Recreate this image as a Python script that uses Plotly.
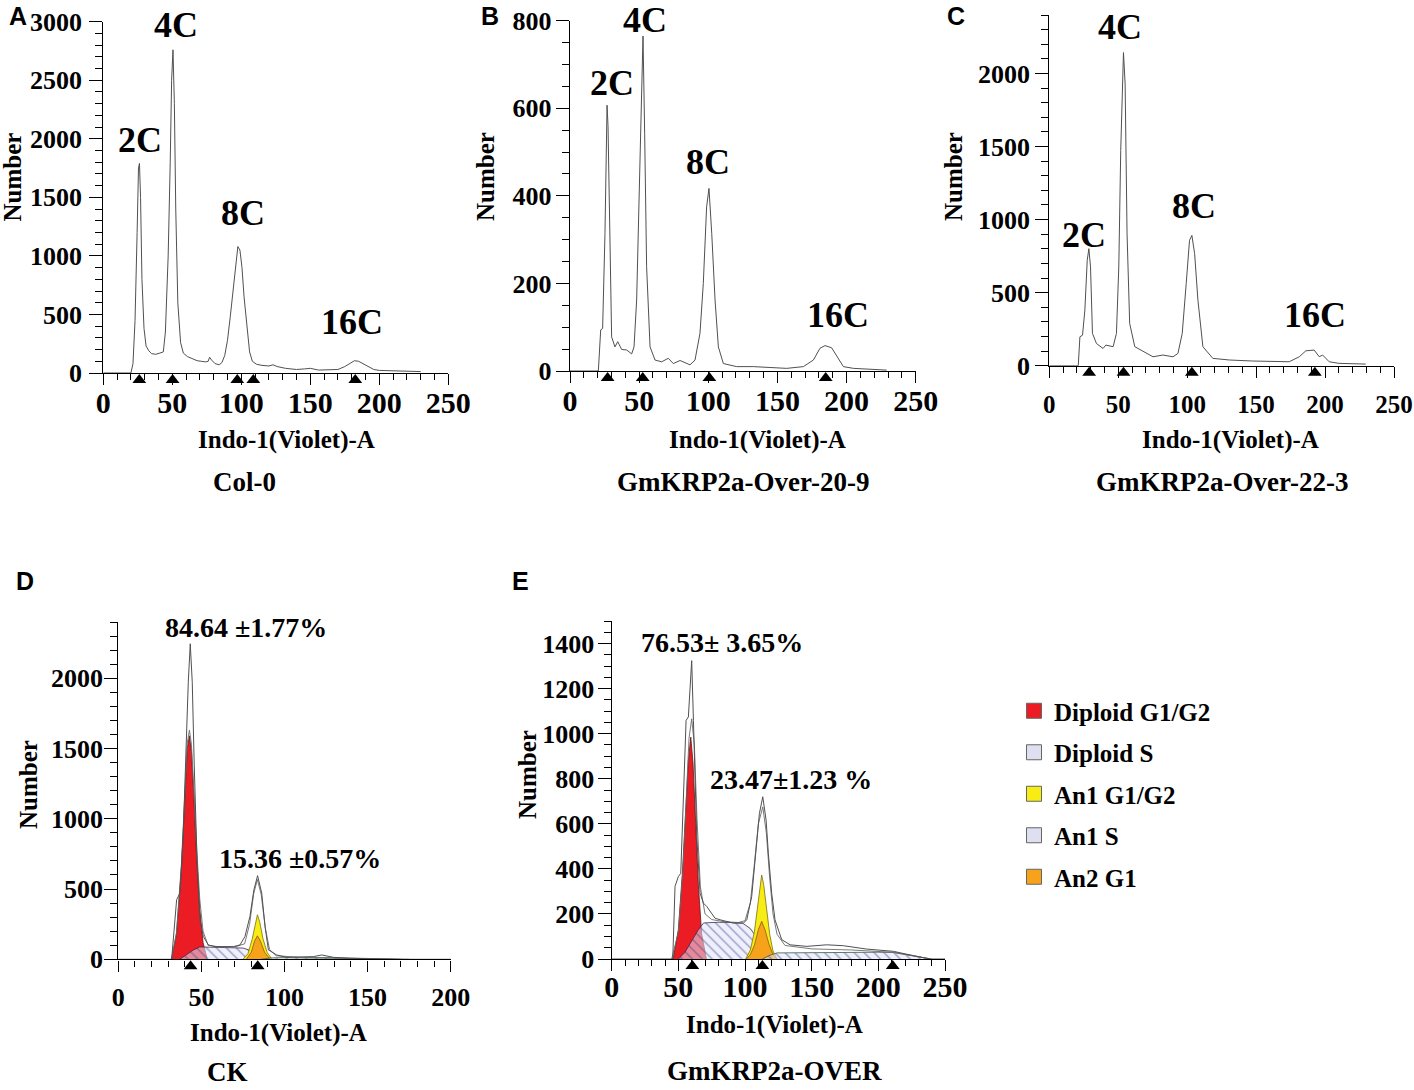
import plotly.graph_objects as go

W, H = 1414, 1090
SERIF = "Liberation Serif"
SANS = "Liberation Sans"
LINE = "#505050"

# ---- A: Col-0 histogram ----
a_x = [0, 20, 21.5, 23, 24.5, 25.5, 26.2, 27, 28, 29.5, 31, 33, 35, 38, 41, 43.5, 45, 47, 48.5, 49.5,
       50.5, 51.5, 52.5, 54, 56, 58, 61, 63, 65, 68, 71, 74, 76, 77, 78.5, 81, 84, 86, 88, 90,
       92, 94, 96, 97.5, 99, 100.5, 102, 104, 106, 108, 111, 115, 120, 123, 126, 132, 140, 146, 150, 156,
       164, 170, 175, 179, 182, 185, 188, 192, 196, 200, 210, 220, 230]
a_y = [0, 0, 80, 450, 1200, 1750, 1790, 1500, 800, 380, 230, 190, 165, 160, 170, 180, 350, 1000, 1800, 2500,
       2760, 2300, 1400, 600, 260, 170, 140, 130, 125, 105, 100, 95, 100, 135, 110, 80, 70, 90, 150, 280,
       480, 700, 950, 1080, 1050, 900, 650, 380, 180, 100, 75, 65, 60, 70, 55, 40, 30, 35, 40, 25,
       25, 30, 55, 85, 105, 100, 80, 50, 30, 22, 18, 15, 12]
a_gates = [26.1, 50.2, 97.1, 108.7, 182.6]

# ---- B: GmKRP2a-Over-20-9 histogram ----
b_x = [0, 20.5, 22.2, 23.6, 25.3, 26.3, 26.8, 27.5, 28.2, 29, 30.1, 32.5, 34.5, 37.4, 41, 44.6, 46.3, 48.2, 50.1, 51.6,
       52.8, 54, 55.4, 57.9, 61.5, 66.3, 71.1, 74.7, 79.6, 86.8, 90.4, 94, 96.4, 98.8, 100.5, 102.5, 104.9, 107.3, 110.9, 120.5,
       132.6, 144.6, 156.7, 168.8, 176, 180.8, 184.4, 189.2, 193, 197.7, 205, 217, 229]
b_y = [0, 0, 94, 97, 314, 540, 607, 560, 421, 200, 78, 55, 67, 49, 48, 39, 55, 162, 390, 558,
       765, 543, 238, 55, 25, 21, 29, 17, 24, 14, 25, 86, 200, 375, 417, 314, 162, 55, 17, 10,
       10, 8, 6, 10, 25, 52, 58, 53, 33, 10, 6, 4, 2]
b_gates = [27.2, 52.6, 100.8, 184.9]

# ---- C: GmKRP2a-Over-22-3 histogram ----
c_x = [0, 21, 22.2, 24.1, 25.8, 27.5, 28.7, 29.9, 31.3, 34.2, 39, 41, 46.3, 48.7, 50.4, 51.8, 53.8, 55, 56.4, 58.3,
       62, 68, 75.2, 82.4, 89.7, 93.3, 96.4, 99.3, 101.7, 103.4, 105.4, 107.8, 111.4, 118.6, 130.7, 147.5, 162, 174, 181.3, 186.1,
       192.1, 195.8, 198.2, 203, 210.2, 229.5]
c_y = [0, 0, 198, 209, 380, 721, 801, 676, 221, 152, 118, 141, 130, 221, 676, 1472, 2143, 1927, 903, 289,
       130, 96, 61, 73, 61, 84, 221, 562, 858, 892, 767, 448, 130, 50, 39, 32, 27, 27, 61, 102,
       107, 61, 73, 27, 16, 11]
c_gates = [28.9, 53.8, 103.4, 192.6]

# ---- D: CK, measured histogram, model fit and components ----
d_data_x = [0, 32.1, 35.1, 37.1, 39.1, 40.7, 42.1, 43.3, 44.5, 45.7, 47.5, 49.1, 51.2, 54.2, 58.2, 69.2, 73.2, 76.2, 79.2, 81.6,
            83.8, 86.3, 88.3, 90.3, 95.3, 101.3, 109.3, 117.4, 122.4, 129.4, 139.4, 159.5, 169.5, 200]
d_data_y = [0, 0, 424, 471, 900, 1567, 1971, 2245, 1971, 1376, 662, 281, 162, 102, 90, 90, 102, 162, 305, 495,
            595, 471, 233, 67, 31, 14, 14, 19, 31, 14, 7, 2, 0, 0]
d_fit_x = [32, 35, 38, 40, 41.5, 42.8, 44, 45.5, 47, 49, 51, 54, 60, 70, 76, 79, 81.5, 83.7, 86, 88.5,
           91, 95, 110, 130, 150, 170]
d_fit_y = [0, 190, 680, 1190, 1540, 1630, 1530, 1200, 820, 430, 200, 100, 90, 88, 110, 250, 470, 567, 460, 220,
           70, 25, 14, 12, 6, 0]
d_dip_g1_x = [32, 35, 38, 40, 41.5, 42.8, 44, 45.5, 47, 49, 51, 53.5]
d_dip_g1_y = [0, 180, 650, 1150, 1500, 1590, 1480, 1150, 760, 360, 120, 0]
d_dip_s_x = [37, 41, 45, 49, 55, 65, 75, 79, 83, 88]
d_dip_s_y = [0, 30, 65, 88, 85, 82, 80, 65, 30, 0]
d_an1_g1_x = [75, 78, 80.5, 82.5, 83.7, 85, 87, 89.5, 92.5]
d_an1_g1_y = [0, 40, 140, 260, 317, 270, 150, 50, 0]
d_an1_s_x = [86, 92, 100, 120, 140, 160, 175]
d_an1_s_y = [0, 10, 12, 10, 8, 4, 0]
d_an2_g1_x = [77, 80, 82, 83.7, 85.5, 88, 91.5]
d_an2_g1_y = [0, 50, 130, 167, 130, 50, 0]
d_gates = [43.5, 83.9]

# ---- E: GmKRP2a-OVER ----
e_data_x = [0, 45.8, 47.5, 50, 51.8, 53.8, 55.8, 57.5, 58.8, 60, 61.3, 63.8, 66.3, 68.8, 71.3, 75, 77.5, 81.3, 91.3, 98.8,
            101.3, 105, 108.3, 110.8, 113.3, 115.8, 117.5, 120, 122.5, 127.5, 133.8, 146.3, 161.3, 173.8, 191.3, 211.3, 226.3, 233.8, 238.8, 250]
e_data_y = [0, 0, 322, 366, 380, 690, 1059, 1074, 1206, 1324, 1059, 543, 292, 248, 233, 204, 181, 174, 159, 159,
            174, 277, 469, 646, 720, 617, 469, 292, 174, 86, 63, 56, 63, 59, 44, 34, 15, 4, 0, 0]
e_fit_x = [45, 50, 53.5, 56, 58, 60, 62, 64, 66.5, 70, 75, 85, 95, 100, 104, 107, 110, 113.3, 116, 118.5,
           121, 124, 130, 150, 180, 210, 230, 240]
e_fit_y = [0, 120, 400, 750, 980, 1066, 950, 620, 320, 200, 175, 165, 162, 170, 250, 420, 600, 675, 560, 360,
           200, 110, 60, 45, 40, 30, 10, 0]
e_dip_g1_x = [46, 50, 53, 55.5, 57.5, 59.3, 61, 63, 65, 67.5, 71]
e_dip_g1_y = [0, 130, 380, 650, 880, 985, 870, 600, 330, 110, 0]
e_dip_s_x = [50, 55, 60, 65, 69, 80, 90, 98, 104, 110, 116, 121]
e_dip_s_y = [0, 30, 80, 130, 160, 163, 162, 160, 135, 85, 35, 0]
e_an1_g1_x = [100.5, 104, 107, 109.5, 111.3, 112.5, 114, 116, 118.5, 121, 124]
e_an1_g1_y = [0, 40, 120, 240, 340, 373, 330, 220, 110, 35, 0]
e_an1_s_x = [113, 118, 124, 140, 160, 180, 200, 212, 222, 232, 239]
e_an1_s_y = [0, 15, 27, 28, 29, 30, 30, 29, 20, 8, 0]
e_an2_g1_x = [101, 104, 107, 110, 112.5, 115, 118, 121, 124]
e_an2_g1_y = [0, 20, 60, 130, 167, 130, 65, 20, 0]
e_gates = [60.5, 113, 210.8]

peak_labels = ["2C", "4C", "8C", "16C"]
sample_names = ["Col-0", "GmKRP2a-Over-20-9", "GmKRP2a-Over-22-3", "CK", "GmKRP2a-OVER"]
d_percents = ["84.64 ±1.77%", "15.36 ±0.57%"]
e_percents = ["76.53± 3.65%", "23.47±1.23 %"]
legend_names = ["Diploid G1/G2", "Diploid S", "An1 G1/G2", "An1 S", "An2 G1"]
legend_colors = ["#ec1c24", "#dedff0", "#f7ec13", "#dedff0", "#f7a21b"]

# pixel boxes of each plot area: (left, right, top, bottom), ranges, label offsets
panels = {
    1: dict(box=(103.3, 448.3, 21.7, 373), xmax=250, ymax=3000, ydt=500, ymin=100, xs=-8, ys=2, xf=30),
    2: dict(box=(570, 915.7, 20.7, 371), xmax=250, ymax=800, ydt=200, ymin=50, xs=-8, ys=-1, xf=30),
    3: dict(box=(1049.3, 1394, 15, 365.7), xmax=250, ymax=2400, ydt=500, ymin=100, xs=5, ys=0, xf=25),
    4: dict(box=(118.3, 450.7, 622, 959.3), xmax=200, ymax=2400, ydt=500, ymin=100, xs=3, ys=-4, xf=26),
    5: dict(box=(611.7, 945, 621, 959), xmax=250, ymax=1500, ydt=200, ymin=50, xs=-10, ys=-2, xf=30),
}
GATE_STRIP = 13.9  # px height of the marker strip under each x axis

fig = go.Figure()


def ax(n):
    return ("x" if n == 1 else f"x{n}"), ("y" if n == 1 else f"y{n}")


def add_line(n, x, y, color=LINE, width=1):
    xa, ya = ax(n)
    fig.add_trace(go.Scatter(x=x, y=y, mode="lines", line=dict(color=color, width=width),
                             xaxis=xa, yaxis=ya, showlegend=False, hoverinfo="skip"))


def add_area(n, x, y, fill, edge, hatch=False):
    xa, ya = ax(n)
    kw = dict(x=x, y=y, mode="lines", fill="tozeroy", fillcolor=fill,
              line=dict(color=edge, width=0.8), xaxis=xa, yaxis=ya,
              showlegend=False, hoverinfo="skip")
    if hatch:
        kw["fillpattern"] = dict(shape="\\", fgcolor="#2f3d8f", bgcolor=fill,
                                 size=7, solidity=0.18)
    fig.add_trace(go.Scatter(**kw))


def add_gates(n, gates):
    # triangles sit in a thin hidden strip just under the x axis
    xa, _ = ax(n)
    fig.add_trace(go.Scatter(x=gates, y=[0.5] * len(gates), mode="markers",
                             marker=dict(symbol="triangle-up", size=12, color="black"),
                             cliponaxis=False, xaxis=xa, yaxis=f"y{n + 5}",
                             showlegend=False, hoverinfo="skip"))


# top row histograms
add_line(1, a_x, a_y)
add_line(2, b_x, b_y)
add_line(3, c_x, c_y)
add_gates(1, a_gates)
add_gates(2, b_gates)
add_gates(3, c_gates)

# D components
add_area(4, d_dip_g1_x, d_dip_g1_y, "#ec1c24", "#5a1a1a")
add_area(4, d_dip_s_x, d_dip_s_y, "rgba(225,228,248,0.55)", "#3a2a50", hatch=True)
add_area(4, d_an1_g1_x, d_an1_g1_y, "#f7ec13", "#7a7010")
add_area(4, d_an2_g1_x, d_an2_g1_y, "#f7a21b", "#8a5a10")
add_area(4, d_an1_s_x, d_an1_s_y, "rgba(225,228,248,0.55)", "#3a5a40", hatch=True)
add_line(4, d_fit_x, d_fit_y, "#6a6a6a", 0.9)
add_line(4, d_data_x, d_data_y)
add_gates(4, d_gates)

# E components
add_area(5, e_dip_g1_x, e_dip_g1_y, "#ec1c24", "#5a1a1a")
add_area(5, e_dip_s_x, e_dip_s_y, "rgba(225,228,248,0.55)", "#3a2a50", hatch=True)
add_area(5, e_an1_g1_x, e_an1_g1_y, "#f7ec13", "#7a7010")
add_area(5, e_an2_g1_x, e_an2_g1_y, "#f7a21b", "#8a5a10")
add_area(5, e_an1_s_x, e_an1_s_y, "rgba(225,228,248,0.55)", "#3a5a40", hatch=True)
add_line(5, e_fit_x, e_fit_y, "#6a6a6a", 0.9)
add_line(5, e_data_x, e_data_y)
add_gates(5, e_gates)

# legend entries
for name, col in zip(legend_names, legend_colors):
    fig.add_trace(go.Scatter(x=[None], y=[None], mode="markers", name=name, legendgroup=name,
                             marker=dict(symbol="square", size=15, color=col,
                                         line=dict(color="#666", width=1)),
                             xaxis="x", yaxis="y"))


def tfont(size):
    return dict(family=SERIF, size=size, color="black", weight="bold")


layout_axes = {}
for n, p in panels.items():
    left, right, top, bottom = p["box"]
    xk = "xaxis" if n == 1 else f"xaxis{n}"
    yk = "yaxis" if n == 1 else f"yaxis{n}"
    xa, ya = ax(n)
    layout_axes[xk] = dict(domain=[left / W, right / W], range=[0, p["xmax"]], anchor=ya,
                           dtick=50, tick0=0, ticks="outside", ticklen=11, tickwidth=1.4,
                           tickcolor="black", showline=True, linecolor="black", linewidth=1.4,
                           showgrid=False, zeroline=False, tickfont=tfont(p["xf"]), automargin=False,
                           ticklabelstandoff=p["xs"], ticklabeloverflow="allow", fixedrange=True,
                           minor=dict(dtick=10, ticks="outside", ticklen=6, tickwidth=1.2,
                                      tickcolor="black", showgrid=False))
    layout_axes[yk] = dict(domain=[1 - bottom / H, 1 - top / H], range=[0, p["ymax"]], anchor=xa,
                           dtick=p["ydt"], tick0=0, ticks="outside", ticklen=13, tickwidth=1.4,
                           tickcolor="black", showline=True, linecolor="black", linewidth=1.4,
                           showgrid=False, zeroline=False, tickfont=tfont(26), automargin=False,
                           ticklabelstandoff=p["ys"], ticklabeloverflow="allow", fixedrange=True,
                           minor=dict(dtick=p["ymin"], ticks="outside", ticklen=7, tickwidth=1.2,
                                      tickcolor="black", showgrid=False))
    layout_axes[f"yaxis{n + 5}"] = dict(domain=[1 - (bottom + GATE_STRIP) / H, 1 - bottom / H],
                                        range=[0, 1], anchor=xa, visible=False, fixedrange=True,
                                        automargin=False)
fig.update_layout(**layout_axes)


def text(s, px, py, size, family=SERIF, angle=0):
    return dict(text=s, x=px / W, y=1 - py / H, xref="paper", yref="paper",
                showarrow=False, xanchor="center", yanchor="middle", textangle=angle,
                font=dict(family=family, size=size, color="black", weight="bold"))


ann = []
# panel letters
for s, px, py in [("A", 18, 16), ("B", 490, 16), ("C", 956, 16), ("D", 25, 581), ("E", 520, 581)]:
    ann.append(text(s, px, py, 25, SANS))
# y titles
for px, py in [(12.5, 177), (486, 177), (954, 177), (28, 785), (527, 775)]:
    ann.append(text("Number", px, py, 25, angle=-90))
# x titles
for px, py in [(286, 440), (757, 440), (1230, 440), (278, 1033), (774, 1025)]:
    ann.append(text("Indo-1(Violet)-A", px, py, 25))
# sample names
for s, (px, py) in zip(sample_names, [(245, 482), (743, 482), (1222, 482), (227, 1072), (774, 1071)]):
    ann.append(text(s, px, py, 27))
# peak labels
peak_pos = [
    [(140, 140), (176, 25), (243, 213), (352, 322)],
    [(612, 83), (645, 20), (708, 162), (838, 315)],
    [(1084, 235), (1120, 27), (1194, 206), (1315, 315)],
]
for row in peak_pos:
    for s, (px, py) in zip(peak_labels, row):
        ann.append(text(s, px, py, 36))
# percentages
for s, (px, py) in zip(d_percents, [(246, 627), (300, 858)]):
    ann.append(text(s, px, py, 28))
for s, (px, py) in zip(e_percents, [(722, 642), (791, 779)]):
    ann.append(text(s, px, py, 28))

fig.update_layout(
    width=W, height=H, margin=dict(l=0, r=0, t=0, b=0, autoexpand=False),
    paper_bgcolor="white", plot_bgcolor="white",
    annotations=ann, showlegend=True,
    legend=dict(x=1014 / W, y=1 - 688 / H, xanchor="left", yanchor="top",
                font=dict(family=SERIF, size=25, color="black", weight="bold"),
                tracegroupgap=6, itemwidth=30, bgcolor="rgba(0,0,0,0)"),
)

fig.write_html("out.html", config={"displayModeBar": False},
               post_script="document.body.style.margin='0';document.body.style.overflow='hidden';")
